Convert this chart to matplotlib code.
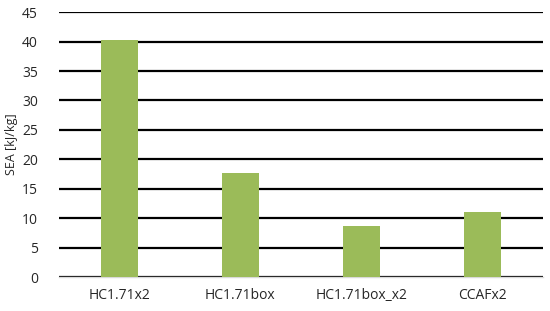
import numpy as np
import matplotlib.pyplot as plt

# data
categories = ['HC1.71x2', 'HC1.71box', 'HC1.71box_x2', 'CCAFx2']
sea_values = [40.2, 17.6, 8.7, 11.0]
y_ticks = [0, 5, 10, 15, 20, 25, 30, 35, 40, 45]

plt.rcParams['font.family'] = ['Open Sans', 'DejaVu Sans']

fig = plt.figure(figsize=(5.5, 3.11), dpi=100)
ax = fig.add_axes([0.107, 0.109, 0.88, 0.852])

x = np.arange(len(categories))
ax.bar(x, sea_values, width=0.31, color='#9BBB59', zorder=3)

ax.set_xlim(-0.5, len(categories) - 0.5)
ax.set_ylim(0, 45)
ax.set_yticks(y_ticks)
ax.set_xticks(x)
ax.set_xticklabels(categories)

# black horizontal gridlines
ax.grid(axis='y', color='black', linewidth=1.6, zorder=0)
ax.grid(axis='x', visible=False)

for spine in ['top', 'left', 'right']:
    ax.spines[spine].set_visible(False)
ax.spines['bottom'].set_color('#D9D9D9')
ax.spines['bottom'].set_linewidth(1.0)

ax.tick_params(axis='both', length=0, labelsize=10, colors='#262626')
ax.tick_params(axis='x', pad=8)
ax.tick_params(axis='y', pad=15)
ax.set_ylabel('SEA [kJ/kg]', fontsize=9, color='#262626', labelpad=3)

fig.savefig('out.png', dpi=100)
